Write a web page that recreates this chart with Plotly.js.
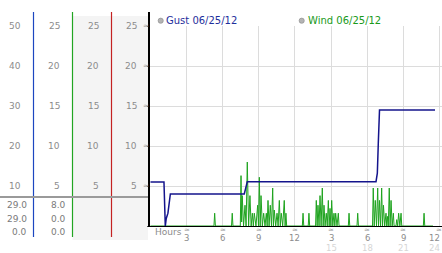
<!DOCTYPE html>
<html><head><meta charset="utf-8">
<script src="https://cdn.plot.ly/plotly-3.0.1.min.js"></script>
<style>html,body{margin:0;padding:0;background:#fff;}#chart{width:442px;height:253px;}</style>
</head><body><div id="chart"></div>
<script>
// ---- data ----
const gustHours = [0, 1.12, 1.23, 1.31, 1.45, 1.54, 1.65, 7.79, 7.93, 8.04, 18.73, 18.84, 18.92, 19.0, 19.02, 23.63];
const gustMph   = [11, 11, 0, 1.9, 3.2, 5.2, 8, 8, 9.4, 11.1, 11.1, 13.2, 20.7, 26.5, 29, 29];

const windHours = [0,
 5.27, 5.33, 5.39,
 6.73, 6.79, 6.85,
 7.46, 7.52, 7.57, 7.62, 7.73, 7.85, 7.94, 8.04, 8.15, 8.26, 8.36, 8.46, 8.54, 8.62, 8.76, 8.90, 8.97, 9.04, 9.11, 9.18, 9.29, 9.40, 9.51, 9.62, 9.69, 9.76, 9.85, 9.95, 10.05, 10.15, 10.21, 10.28, 10.40, 10.51, 10.60, 10.70, 10.78, 10.86, 10.98, 11.11, 11.18, 11.25, 11.31,
 12.61, 12.67, 12.73,
 13.10, 13.16, 13.22,
 13.71, 13.77, 13.84, 13.91, 14.00, 14.08, 14.17, 14.27, 14.34, 14.41, 14.50, 14.60, 14.68, 14.77, 14.84, 14.91, 14.98, 15.05, 15.14, 15.24, 15.31, 15.38, 15.49, 15.60, 15.66,
 16.43, 16.49, 16.55,
 17.15, 17.21, 17.27,
 18.44, 18.50, 18.58, 18.67, 18.77, 18.87, 18.94, 19.02, 19.11, 19.20, 19.27, 19.35, 19.45, 19.56, 19.62, 19.68, 19.75, 19.83, 19.90, 19.98, 20.07, 20.17, 20.23,
 20.39, 20.45, 20.53, 20.61, 20.71, 20.81, 20.87,
 22.66, 22.72, 22.78,
 23.46];
const windMph = [0,
 0, 1.6, 0,
 0, 1.6, 0,
 0, 6.3, 0.5, 3.8, 0, 2.6, 0, 8.0, 0, 3.8, 0, 1.6, 0, 1.6, 0, 2.6, 0, 6.1, 0, 3.8, 0, 1.6, 0, 1.6, 0, 3.2, 0, 2.6, 0, 4.75, 0, 2.0, 0, 1.6, 0, 3.2, 0, 1.6, 0, 3.2, 0, 1.6, 0,
 0, 1.6, 0,
 0, 1.6, 0,
 0, 3.2, 0, 2.6, 0, 3.8, 0, 4.75, 0, 2.6, 0, 1.6, 0, 3.2, 0, 2.2, 0, 3.2, 0, 1.6, 0, 1.6, 0, 1.6, 0,
 0, 1.6, 0,
 0, 1.6, 0,
 0, 4.75, 0, 3.2, 0, 4.75, 0, 3.2, 0, 4.75, 0, 2.6, 0, 1.6, 0, 1.2, 0, 4.75, 0, 3.2, 0, 1.6, 0,
 0, 0.8, 0, 1.6, 0, 1.6, 0,
 0, 1.6, 0,
 0];

const gustScale = [50, 40, 30, 20, 10];
const windScale = [25, 20, 15, 10, 5];
const summaryGust = ['29.0', '29.0', '0.0'];
const summaryWind = ['8.0', '0.0', '0.0'];
const hourTicks = [3, 6, 9, 12, 15, 18, 21, 24];
const hourLabels = ['3', '6', '9', '12', '3', '6', '9', '12'];
const hourLabels24 = ['', '', '', '', '15', '18', '21', '24'];
const gustLegend = 'Gust 06/25/12';
const windLegend = 'Wind 06/25/12';

// ---- layout helpers (pixel -> paper) ----
const W = 442, H = 253, L = 150, T = 26, B = 27;
const PW = W - L, PH = H - T - B;
const px = v => (v - L) / PW;
const py = v => (H - B - v) / PH;
const FONT = 'DejaVu Sans';
const GRAY = '#8c8c8c';

const shapes = [];
const ann = [];

// column backgrounds
shapes.push({type: 'rect', xref: 'paper', yref: 'paper', x0: px(72.5), x1: px(148), y0: py(240), y1: py(16),
  fillcolor: '#f4f4f4', line: {width: 0}, layer: 'below'});
// column separators
[[33.5, '#1c46c0'], [72.5, '#22a522'], [111.5, '#c42222']].forEach(([x, c]) => {
  shapes.push({type: 'line', xref: 'paper', yref: 'paper', x0: px(x), x1: px(x), y0: py(237), y1: py(12),
    line: {color: c, width: 1.2}});
});
// horizontal separator
shapes.push({type: 'line', xref: 'paper', yref: 'paper', x0: px(0), x1: px(150), y0: py(197), y1: py(197),
  line: {color: '#9a9a9a', width: 2}});
// main left axis line
shapes.push({type: 'line', xref: 'paper', yref: 'paper', x0: px(149), x1: px(149), y0: py(227), y1: py(12),
  line: {color: '#000', width: 2}});
// legend markers
[160.7, 301.7].forEach(x => {
  shapes.push({type: 'circle', xref: 'paper', yref: 'paper', x0: px(x - 2.6), x1: px(x + 2.6), y0: py(23.3), y1: py(18.1),
    fillcolor: '#b4b4b4', line: {color: '#8a8a8a', width: 0.6}});
});

function label(text, x, y, opts) {
  ann.push(Object.assign({text: text, xref: 'paper', yref: 'paper', x: px(x), y: py(y),
    xanchor: 'right', yanchor: 'middle', showarrow: false, borderpad: 0,
    font: {family: FONT, size: 9, color: GRAY}}, opts || {}));
}

// left scale labels (through axis scales)
gustScale.forEach(v => {
  ann.push({text: String(v), xref: 'paper', yref: 'y2', x: px(21.5), y: v, xanchor: 'right', yanchor: 'middle',
    showarrow: false, borderpad: 0, font: {family: FONT, size: 9, color: GRAY}});
});
[60.5, 99.5, 138].forEach(xr => {
  windScale.forEach(v => {
    ann.push({text: String(v), xref: 'paper', yref: 'y', x: px(xr), y: v, xanchor: 'right', yanchor: 'middle',
      showarrow: false, borderpad: 0, font: {family: FONT, size: 9, color: GRAY}});
  });
});
windScale.forEach(v => {
  ann.push({text: '≈', xref: 'paper', yref: 'y', x: px(145.5), y: v, xanchor: 'center', yanchor: 'middle',
    showarrow: false, borderpad: 0, font: {family: FONT, size: 7, color: '#a0a0a0'}});
});
// summary rows
[205, 219, 232].forEach((y, i) => {
  label(summaryGust[i], 28, y, {font: {family: FONT, size: 9, color: '#7a7a7a'}});
  label(summaryWind[i], 66.5, y, {font: {family: FONT, size: 9, color: '#7a7a7a'}});
});
// legend texts
label(gustLegend, 165, 20.7, {xanchor: 'left', font: {family: FONT, size: 10, color: '#1f2f9c'}});
label(windLegend, 306.5, 20.7, {xanchor: 'left', font: {family: FONT, size: 10, color: '#1a9a1a'}});
// x axis text
label('Hours', 153.5, 231.5, {xanchor: 'left'});
hourTicks.forEach((h, i) => {
  const last = h === 24;
  const base = {xref: 'x', yref: 'paper', showarrow: false, borderpad: 0, yanchor: 'middle'};
  ann.push(Object.assign({}, base, {text: '≈', x: h, y: py(229.5), xanchor: 'center',
    font: {family: FONT, size: 7, color: '#a0a0a0'}}));
  ann.push(Object.assign({}, base, {text: hourLabels[i], x: last ? 24.12 : h, y: py(237.5),
    xanchor: last ? 'right' : 'center', font: {family: FONT, size: 8.5, color: GRAY}}));
  if (hourLabels24[i]) {
    ann.push(Object.assign({}, base, {text: hourLabels24[i], x: last ? 24.12 : h, y: py(247.5),
      xanchor: last ? 'right' : 'center', font: {family: FONT, size: 8.5, color: '#d6d6d6'}}));
  }
});

const traces = [
  {x: windHours, y: windMph, type: 'scatter', mode: 'lines', yaxis: 'y',
    line: {color: '#1ea31e', width: 1}, hoverinfo: 'skip'},
  {x: gustHours, y: gustMph, type: 'scatter', mode: 'lines', yaxis: 'y2',
    line: {color: '#14148c', width: 1.5}, hoverinfo: 'skip'}
];

const layout = {
  width: W, height: H,
  margin: {l: L, r: 0, t: T, b: B, pad: 0},
  paper_bgcolor: '#fff', plot_bgcolor: '#fff',
  showlegend: false,
  xaxis: {range: [-0.04, 24.21], tickvals: hourTicks, showticklabels: false, ticks: '',
    showgrid: true, gridcolor: '#dcdcdc', gridwidth: 1, zeroline: false,
    showline: true, linecolor: '#000', linewidth: 1, fixedrange: true},
  yaxis: {range: [0, 25.02], dtick: 5, tick0: 0, showticklabels: false,
    ticks: 'outside', ticklen: 2, tickcolor: '#444', tickwidth: 1,
    showgrid: true, gridcolor: '#dcdcdc', gridwidth: 1, zeroline: false, showline: false, fixedrange: true},
  yaxis2: {range: [0, 50.04], overlaying: 'y', visible: false, fixedrange: true},
  shapes: shapes,
  annotations: ann
};

Plotly.newPlot('chart', traces, layout, {staticPlot: true, displayModeBar: false});
</script></body></html>
